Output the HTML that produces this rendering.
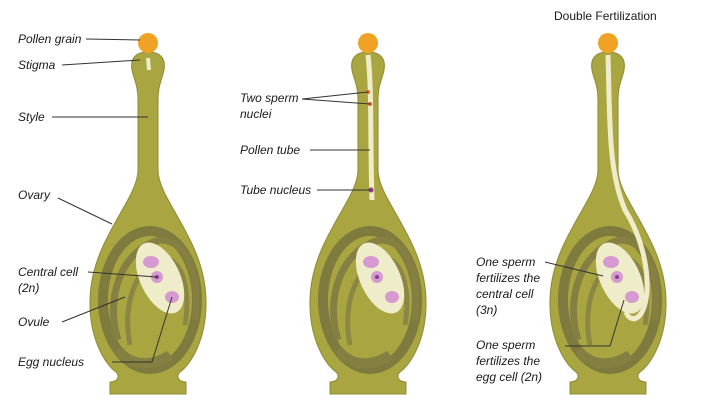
<!DOCTYPE html>
<html><head><style>
body{margin:0;background:#fff;}
svg{display:block}
text{font-family:"Liberation Sans",sans-serif;font-size:12px;font-style:italic;fill:#1a1a1a;}
</style></head><body>
<svg width="705" height="402" viewBox="0 0 705 402">
<defs>
<g id="p">
<path d="M148 52 C160 52 166 58 164 70 C162 80 158 85 158 100 L158 170 C158 200 205 240 206 300 C207 340 190 365 180 372 C176 376 178 382 186 382 L186 394 L110 394 L110 382 C118 382 120 376 116 372 C106 365 89 340 90 300 C91 240 138 200 138 170 L138 100 C138 85 134 80 132 70 C130 58 136 52 148 52 Z" fill="#a9a641" stroke="#8e8a35" stroke-width="1"/>
<ellipse cx="150" cy="300" rx="52" ry="74" fill="#7f7a3e"/>
<ellipse cx="150" cy="300" rx="42" ry="64" fill="#a9a641"/>
<path d="M118 340 C105 300 120 250 160 240 C190 240 200 280 195 320" fill="none" stroke="#857f42" stroke-width="7"/>
<path d="M130 345 C122 305 135 265 165 258 C185 262 190 295 185 325" fill="none" stroke="#8c8645" stroke-width="5"/>
<path d="M118 350 C130 365 150 368 170 355" fill="none" stroke="#857f42" stroke-width="10"/>
<ellipse cx="160" cy="278" rx="20" ry="38" transform="rotate(-25 160 278)" fill="#efedc9"/>
<ellipse cx="151" cy="262" rx="8" ry="6" fill="#d59ad0"/>
<circle cx="157" cy="277" r="6" fill="#d59ad0"/>
<circle cx="157" cy="277" r="2" fill="#8a3c8a"/>
<ellipse cx="172" cy="297" rx="7" ry="6" fill="#d59ad0"/>
</g>
</defs>
<use href="#p"/>
<use href="#p" transform="translate(220,0)"/>
<use href="#p" transform="translate(460,0)"/>
<circle cx="148" cy="43" r="10" fill="#f0a224"/>
<circle cx="368" cy="43" r="10" fill="#f0a224"/>
<circle cx="608" cy="43" r="10" fill="#f0a224"/>
<path d="M148 58 L149 70" stroke="#efedc9" stroke-width="4"/>
<path d="M368 55 C372 90 370 140 372 200" stroke="#efedc9" stroke-width="5" fill="none"/>
<circle cx="368" cy="92" r="2" fill="#e06020"/><circle cx="370" cy="104" r="2" fill="#e06020"/>
<circle cx="371" cy="190" r="2.5" fill="#8a3c8a"/>
<path d="M608 55 C610 120 608 170 625 210 C650 250 652 300 640 315 C634 322 628 318 626 312" stroke="#efedc9" stroke-width="5" fill="none"/>
<g stroke="#333" stroke-width="1" fill="none">
<line x1="86" y1="39" x2="140" y2="40"/>
<line x1="62" y1="65" x2="140" y2="60"/>
<line x1="52" y1="117" x2="148" y2="117"/>
<line x1="58" y1="198" x2="112" y2="224"/>
<line x1="88" y1="272" x2="157" y2="277"/>
<line x1="62" y1="322" x2="125" y2="297"/>
<line x1="112" y1="362" x2="152" y2="362"/><line x1="152" y1="362" x2="172" y2="297"/>
<line x1="302" y1="99" x2="368" y2="92"/><line x1="302" y1="99" x2="370" y2="104"/>
<line x1="310" y1="150" x2="370" y2="150"/>
<line x1="317" y1="190" x2="370" y2="190"/>
<line x1="545" y1="262" x2="603" y2="276"/>
<line x1="565" y1="346" x2="610" y2="346"/><line x1="610" y1="346" x2="624" y2="300"/>
</g>
<text x="18" y="43">Pollen grain</text>
<text x="18" y="69">Stigma</text>
<text x="18" y="121">Style</text>
<text x="18" y="199">Ovary</text>
<text x="18" y="276">Central cell</text>
<text x="18" y="292">(2n)</text>
<text x="18" y="326">Ovule</text>
<text x="18" y="366">Egg nucleus</text>
<text x="240" y="102">Two sperm</text>
<text x="240" y="118">nuclei</text>
<text x="240" y="154">Pollen tube</text>
<text x="240" y="194">Tube nucleus</text>
<text x="554" y="20" style="font-style:normal">Double Fertilization</text>
<text x="476" y="266">One sperm</text>
<text x="476" y="282">fertilizes the</text>
<text x="476" y="298">central cell</text>
<text x="476" y="314">(3n)</text>
<text x="476" y="349">One sperm</text>
<text x="476" y="365">fertilizes the</text>
<text x="476" y="381">egg cell (2n)</text>
</svg>
</body></html>
